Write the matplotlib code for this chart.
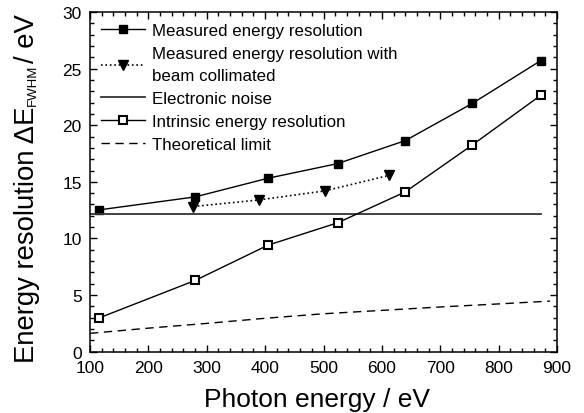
import matplotlib
matplotlib.use("Agg")
import matplotlib.pyplot as plt
from matplotlib.ticker import MultipleLocator

plt.rcParams['font.family'] = ['Liberation Sans', 'DejaVu Sans']

# Data
meas_x = [115, 280, 405, 524, 640, 755, 872]
meas_y = [12.52, 13.67, 15.32, 16.61, 18.64, 21.93, 25.70]

coll_x = [277, 389, 502, 613]
coll_y = [12.82, 13.40, 14.20, 15.58]

noise_x = [100, 872]
noise_y = [12.17, 12.17]

intr_x = [115, 280, 405, 524, 640, 755, 872]
intr_y = [2.97, 6.29, 9.41, 11.38, 14.11, 18.26, 22.64]

theo_x = [100, 200, 300, 400, 500, 600, 700, 800, 888]
theo_y = [1.62, 2.08, 2.50, 2.95, 3.35, 3.65, 3.95, 4.22, 4.47]

labels = ["Measured energy resolution",
          "Measured energy resolution with\nbeam collimated",
          "Electronic noise",
          "Intrinsic energy resolution",
          "Theoretical limit"]

W, H = 584, 414
fig = plt.figure(figsize=(W/100, H/100), dpi=100)
ax = fig.add_axes([90/W, 1-352.7/H, (557-90)/W, (352.7-13)/H])

ax.plot(meas_x, meas_y, '-', color='black', lw=1, marker='s', ms=6,
        mfc='black', mec='black', label=labels[0])
ax.plot(coll_x, coll_y, ':', color='black', lw=1.2, marker='v', ms=7,
        mfc='black', mec='black', label=labels[1])
ax.plot(noise_x, noise_y, '-', color='#333333', lw=1.3, label=labels[2])
ax.plot(intr_x, intr_y, '-', color='black', lw=1, marker='s', ms=5.5,
        mfc='white', mec='black', mew=1.5, label=labels[3])
ax.plot(theo_x, theo_y, '--', color='black', lw=1, dashes=(6, 4), label=labels[4])

ax.set_xlim(100, 900)
ax.set_ylim(0, 30)
ax.xaxis.set_major_locator(MultipleLocator(100))
ax.xaxis.set_minor_locator(MultipleLocator(20))
ax.yaxis.set_major_locator(MultipleLocator(5))
ax.yaxis.set_minor_locator(MultipleLocator(1))
ax.tick_params(which='both', direction='in', top=True, right=True, labelsize=12.5, width=1)
ax.tick_params(which='major', length=5, pad=6)
ax.tick_params(which='minor', length=3)
for s in ax.spines.values():
    s.set_linewidth(1.1)

# x label
fig.text(317.5/W, 7/H, "Photon energy / eV", fontsize=19, ha='center', va='baseline')

# y label built from pieces (small subscript)
r = fig.canvas.get_renderer()
xb = 33.5/W  # baseline position (rotated)
t1 = fig.text(xb, (H-363)/H, "Energy resolution \u0394E", fontsize=19.8, rotation=90,
              rotation_mode='anchor', ha='left', va='baseline')
bb1 = t1.get_window_extent(renderer=r)
t2 = fig.text(xb + 2.5/W, (bb1.y1 + 1)/H, "FWHM", fontsize=9.5, rotation=90,
              rotation_mode='anchor', ha='left', va='baseline')
bb2 = t2.get_window_extent(renderer=r)
t3 = fig.text(xb, (bb2.y1 + 1)/H, "/ eV", fontsize=19.8, rotation=90,
              rotation_mode='anchor', ha='left', va='baseline')

leg = ax.legend(loc='upper left', frameon=False, fontsize=12.2, handlelength=2.6,
                handletextpad=0.4, labelspacing=0.47, borderaxespad=0.25,
                bbox_to_anchor=(0.0, 1.0))
for t in leg.get_texts():
    t.set_linespacing(1.6)

fig.savefig("out.png", dpi=100)
